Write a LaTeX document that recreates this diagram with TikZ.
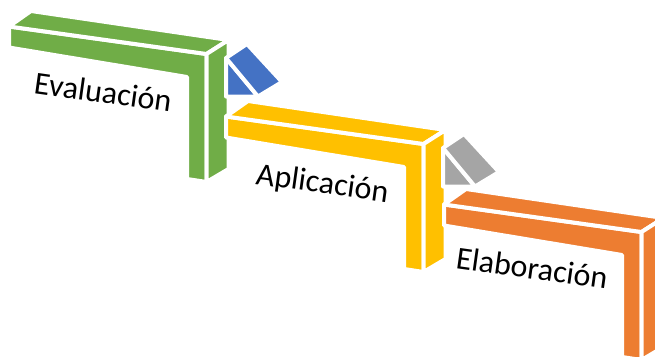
\documentclass[tikz,border=0pt]{standalone}
\usepackage{fontspec}
\setmainfont{Carlito}
\usepackage{tikz}
\usetikzlibrary{positioning}

\definecolor{evalgreen}{HTML}{70AD47}
\definecolor{aplyellow}{HTML}{FFC000}
\definecolor{elaborange}{HTML}{ED7D31}
\definecolor{tipblue}{HTML}{4472C4}
\definecolor{tipgray}{HTML}{A5A5A5}

\begin{document}
\begin{tikzpicture}[
    x=1pt, y=-1pt, % pixel grid, y pointing down
    bracket_face/.style={
        draw=white,
        line width=4pt,
        line join=round
    },
    stage_text/.style={
        font=\fontsize{32}{38}\selectfont,
        anchor=base west,
        inner sep=0pt,
        rotate=-8
    },
    pics/bracket/.style={
        code={
            % front, top and side faces
            \filldraw[bracket_face, fill=#1] (9,26.5) -- (206.5,54) -- (206.5,182) -- (187,179) -- (187,77) -- (9,47.5) -- cycle;
            \filldraw[bracket_face, fill=#1] (9,26.5) -- (31,11) -- (228.5,40) -- (206.5,54) -- cycle;
            \filldraw[bracket_face, fill=#1] (206.5,54) -- (228.5,40) -- (228.5,169) -- (206.5,182) -- cycle;
        }
    },
    pics/arrow_tip/.style={
        code={
            \filldraw[bracket_face, fill=#1] (226,58) -- (226,96.5) -- (258,96.5) -- cycle;
            \filldraw[bracket_face, fill=#1] (226,58) -- (247,44) -- (282,82) -- (258,96.5) -- cycle;
        }
    }
]

    \useasboundingbox (0,0) rectangle (655,356);
    \clip (0,0) rectangle (655,356);

    % Evaluación
    \pic (eval) at (0,0) {bracket=evalgreen};
    \pic (tip1) at (0,0) {arrow_tip=tipblue};

    % Aplicación
    \pic (apl) at (217,90) {bracket=aplyellow};
    \pic (tip2) at (217,90) {arrow_tip=tipgray};

    % Elaboración
    \pic (elab) at (435,178) {bracket=elaborange};

    \node[stage_text] (eval_text) at (33,93) {Evaluación};
    \node[stage_text] (apl_text) at (255,184) {Aplicación};
    \node[stage_text] (elab_text) at (455,268) {Elaboración};

\end{tikzpicture}
\end{document}
